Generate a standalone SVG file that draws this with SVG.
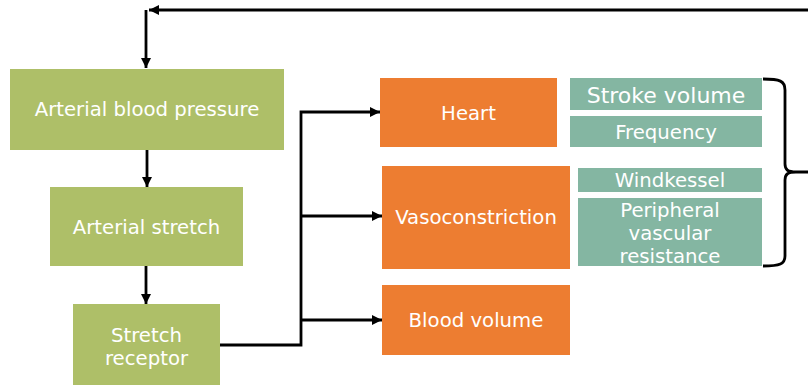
<svg xmlns="http://www.w3.org/2000/svg" width="808" height="385" viewBox="0 0 808 385">
<defs>
<style>
.g{fill:#AEBF68}
.o{fill:#ED7D31}
.t{fill:#84B6A2}
text{font-family:"DejaVu Sans","Verdana",sans-serif;font-size:19.7px;fill:#FFFFFF;text-anchor:middle}
.c{fill:none;stroke:#000;stroke-width:2.8}
</style>
<marker id="ah" markerUnits="userSpaceOnUse" markerWidth="11" markerHeight="12" refX="10" refY="6" orient="auto">
<path d="M0,1 L10,6 L0,11 z" fill="#000"/>
</marker>
</defs>
<rect width="808" height="385" fill="#FFFFFF"/>
<g id="connectors">
<path class="c" d="M808,10 L149,10" marker-end="url(#ah)"/>
<path class="c" d="M146,10 L146,68" marker-end="url(#ah)"/>
<path class="c" d="M147,150 L147,187" marker-end="url(#ah)"/>
<path class="c" d="M146,266 L146,304" marker-end="url(#ah)"/>
<path class="c" d="M220,345 L301,345 L301,112 L380,112" marker-end="url(#ah)"/>
<path class="c" d="M301,216 L382,216" marker-end="url(#ah)"/>
<path class="c" d="M301,320 L382,320" marker-end="url(#ah)"/>
<path class="c" d="M763,79 C780,79 785,81 785,90 L785,164 C785,170 788,172 796,172 L808,172 M796,172 C788,172 785,174 785,180 L785,256 C785,264 780,266 763,266"/>
</g>
<g id="arterial-blood-pressure">
<rect class="g" x="10" y="69" width="274" height="81"/>
<text x="147" y="116">Arterial blood pressure</text>
</g>
<g id="arterial-stretch">
<rect class="g" x="50" y="187" width="193" height="79"/>
<text x="146.5" y="234">Arterial stretch</text>
</g>
<g id="stretch-receptor">
<rect class="g" x="73" y="304" width="147" height="81"/>
<text x="146.5" y="342">Stretch</text>
<text x="146.5" y="365">receptor</text>
</g>
<g id="heart">
<rect class="o" x="380" y="78" width="177" height="69"/>
<text x="468.5" y="120">Heart</text>
</g>
<g id="vasoconstriction">
<rect class="o" x="382" y="166" width="188" height="103"/>
<text x="476" y="224">Vasoconstriction</text>
</g>
<g id="blood-volume">
<rect class="o" x="382" y="285" width="188" height="70"/>
<text x="476" y="327">Blood volume</text>
</g>
<g id="stroke-volume">
<rect class="t" x="570" y="78" width="192" height="32"/>
<text x="666" y="103" style="font-size:22px">Stroke volume</text>
</g>
<g id="frequency">
<rect class="t" x="570" y="116" width="192" height="31"/>
<text x="666" y="139">Frequency</text>
</g>
<g id="windkessel">
<rect class="t" x="578" y="168" width="184" height="24"/>
<text x="670" y="187">Windkessel</text>
</g>
<g id="peripheral-vascular-resistance">
<rect class="t" x="578" y="198" width="184" height="68"/>
<text x="670" y="217">Peripheral</text>
<text x="670" y="240">vascular</text>
<text x="670" y="263">resistance</text>
</g>
</svg>
